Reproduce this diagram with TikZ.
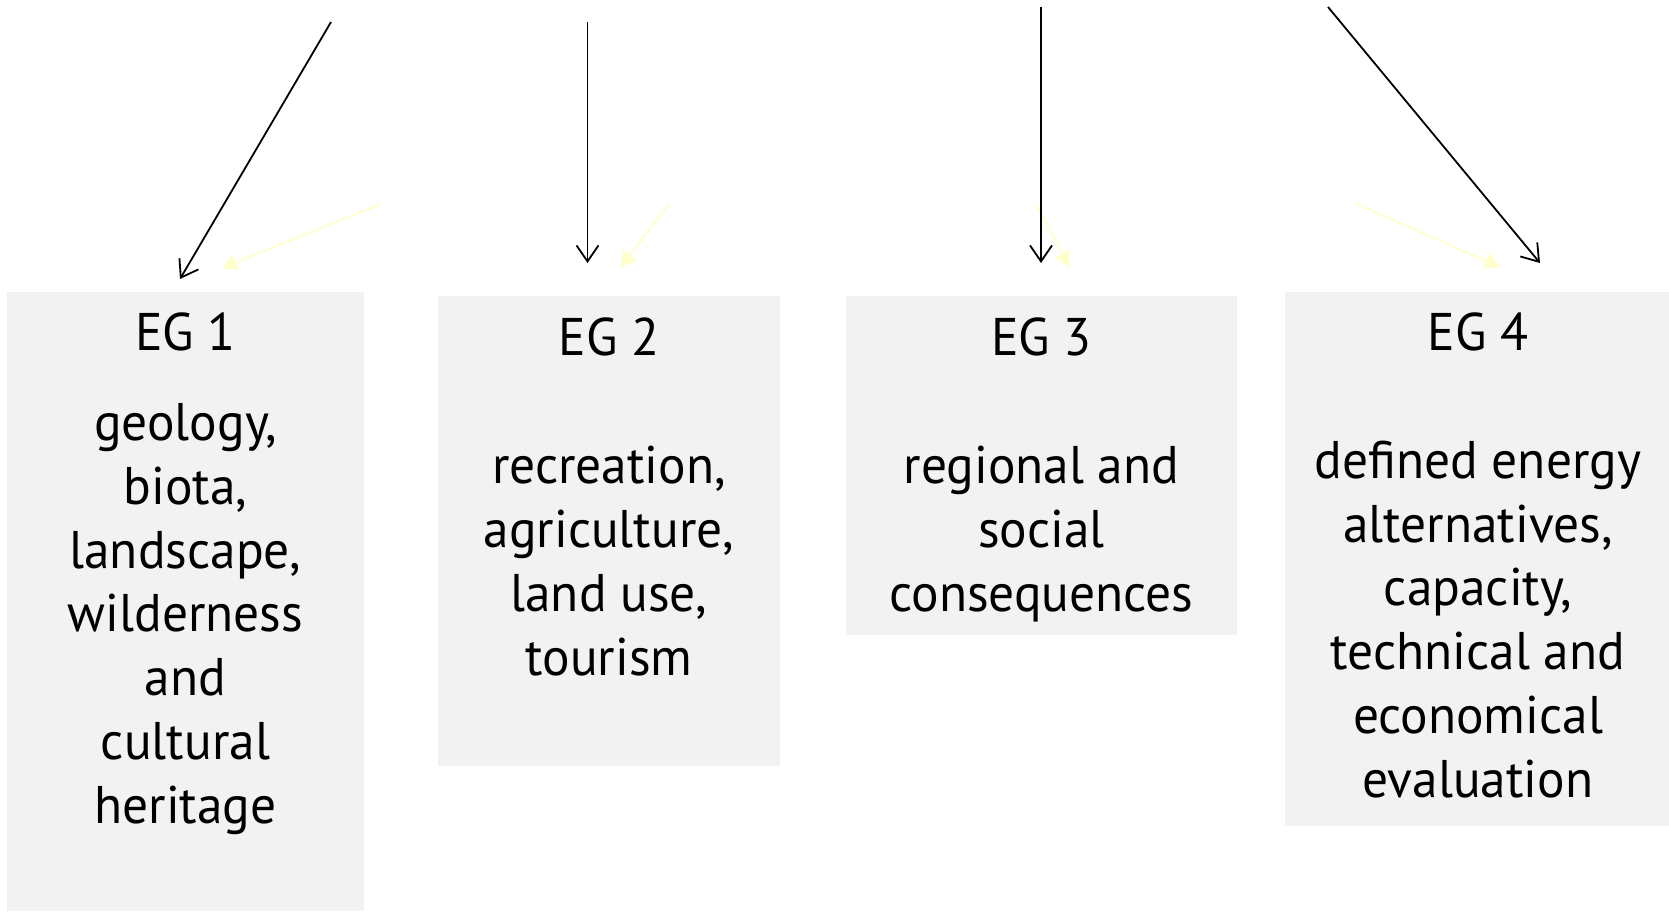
\documentclass[tikz,border=0pt]{standalone}
\usepackage{fontspec}
\setmainfont[FakeStretch=0.97]{PT Sans}
\usetikzlibrary{arrows.meta}
\definecolor{boxgray}{HTML}{F2F2F2}
\definecolor{paleyellow}{HTML}{FFFFCC}
\tikzset{
  egbox/.style={fill=boxgray, draw=none},
  egtitle/.style={anchor=base, inner sep=0pt, font=\fontsize{53}{63.7}\selectfont},
  egbody/.style={anchor=base, inner sep=0pt, align=center, font=\fontsize{53}{63.7}\selectfont},
  blackarrow/.style={draw=black, line width=1.8pt, -{Straight Barb[length=16pt, width=22pt, line width=1.8pt]}},
  yellowarrow/.style={draw=paleyellow, line width=1.8pt, -{Triangle[length=15pt, width=17pt]}, fill=paleyellow},
}
\begin{document}
\begin{tikzpicture}[x=1pt, y=-1pt]
\useasboundingbox (0,0) rectangle (1669,911);
% boxes
\fill[egbox] (7,292) rectangle (364,911);
\fill[egbox] (437.5,296) rectangle (780,766);
\fill[egbox] (846,296) rectangle (1237,635);
\fill[egbox] (1285,292) rectangle (1669,826);
% titles
\node[egtitle] (t1) at (185.5,350) {EG 1};
\node[egtitle] (t2) at (609,355) {EG 2};
\node[egtitle] (t3) at (1041.5,355) {EG 3};
\node[egtitle] (t4) at (1478,350) {EG 4};
% bodies (base anchor = baseline of the last line)
\node[egbody] (b1) at (185.5,823) {geology,\\biota,\\landscape,\\wilderness\\and\\cultural\\heritage};
\node[egbody] (b2) at (609,675) {recreation,\\agriculture,\\land use,\\tourism};
\node[egbody] (b3) at (1041.5,611) {regional and\\social\\consequences};
\node[egbody] (b4) at (1478,797) {defined energy\\alternatives,\\capacity,\\technical and\\economical\\evaluation};
% arrow end points
\coordinate (a1s) at (331,22);   \coordinate (a1e) at (180,279);
\coordinate (a2s) at (587.5,22); \coordinate (a2e) at (587.5,263);
\coordinate (a3s) at (1041,7);   \coordinate (a3e) at (1041,263);
\coordinate (a4s) at (1328,7);   \coordinate (a4e) at (1540,263);
\coordinate (y1s) at (381,204);  \coordinate (y1e) at (222,268);
\coordinate (y2s) at (669,204);  \coordinate (y2e) at (621,267);
\coordinate (y3s) at (1037,205); \coordinate (y3e) at (1069,267);
\coordinate (y4s) at (1357,204); \coordinate (y4e) at (1500,267);
% yellow arrows
\draw[yellowarrow] (y1s) -- (y1e);
\draw[yellowarrow] (y2s) -- (y2e);
\draw[yellowarrow] (y3s) -- (y3e);
\draw[yellowarrow] (y4s) -- (y4e);
% black arrows
\draw[blackarrow] (a1s) -- (a1e);
\draw[blackarrow] (a2s) -- (a2e);
\draw[blackarrow] (a3s) -- (a3e);
\draw[blackarrow] (a4s) -- (a4e);
\end{tikzpicture}
\end{document}
